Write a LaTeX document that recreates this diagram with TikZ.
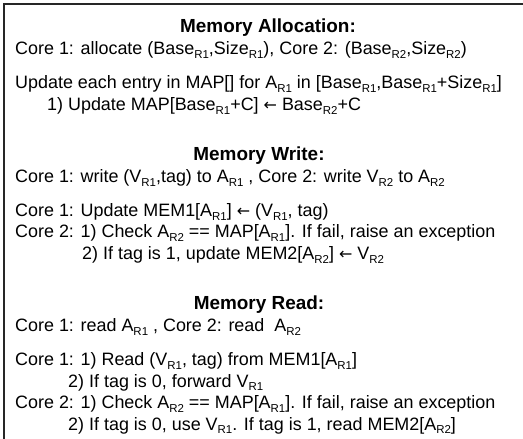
\documentclass[tikz,border=0pt]{standalone}
\usepackage{fontspec}
\setmainfont{Liberation Sans}
\newfontfamily\arrowfont{DejaVu Sans}
% subscript in the style of the slide text
\newcommand{\rsub}[1]{\raisebox{-0.22em}{\fontsize{11.5}{11.5}\selectfont #1}}
\newcommand{\getsarrow}{{\arrowfont\fontsize{16}{16}\selectfont ←}}
\begin{document}
\begin{tikzpicture}[x=1bp,y=-1bp,
  txt/.style={anchor=base west,inner sep=0pt,font=\fontsize{18}{18}\selectfont},
  heading/.style={anchor=base,inner sep=0pt,font=\fontsize{19}{19}\selectfont\bfseries},
  frame/.style={draw=black!85,line width=2bp}]
\useasboundingbox (0,0) rectangle (523,439);
\begin{scope}
\clip (0,0) rectangle (523,439);
\draw[frame] (4,4) rectangle (540,460);
\end{scope}

% Memory allocation
\node[heading] (t1) at (268,33) {Memory Allocation:};
\node[txt] (a1) at (15,55) {Core 1: allocate (Base\rsub{R1},Size\rsub{R1}), Core 2: (Base\rsub{R2},Size\rsub{R2})};
\node[txt] (a2) at (15,89) {Update each entry in MAP[] for A\rsub{R1} in [Base\rsub{R1},Base\rsub{R1}+Size\rsub{R1}]};
\node[txt] (a3) at (47,110.5) {1) Update MAP[Base\rsub{R1}+C] \getsarrow{} Base\rsub{R2}+C};

% Memory write
\node[heading] (t2) at (259,160.5) {Memory Write:};
\node[txt] (w1) at (15,182.5) {Core 1: write (V\rsub{R1},tag) to A\rsub{R1} , Core 2: write V\rsub{R2} to A\rsub{R2}};
\node[txt] (w2) at (15,216.5) {Core 1: Update MEM1[A\rsub{R1}] \getsarrow{} (V\rsub{R1}, tag)};
\node[txt] (w3) at (15,238) {Core 2: 1) Check A\rsub{R2} == MAP[A\rsub{R1}]. If fail, raise an exception};
\node[txt] (w4) at (82,259.5) {2) If tag is 1, update MEM2[A\rsub{R2}] \getsarrow{} V\rsub{R2}};

% Memory read
\node[heading] (t3) at (259,309.5) {Memory Read:};
\node[txt] (r1) at (15,331.5) {Core 1: read A\rsub{R1} , Core 2: read\ \ A\rsub{R2}};
\node[txt] (r2) at (15,365.5) {Core 1: 1) Read (V\rsub{R1}, tag) from MEM1[A\rsub{R1}]};
\node[txt] (r3) at (68,387) {2) If tag is 0, forward V\rsub{R1}};
\node[txt] (r4) at (15,408.5) {Core 2: 1) Check A\rsub{R2} == MAP[A\rsub{R1}]. If fail, raise an exception};
\node[txt] (r5) at (68,430) {2) If tag is 0, use V\rsub{R1}. If tag is 1, read MEM2[A\rsub{R2}]};
\end{tikzpicture}
\end{document}
